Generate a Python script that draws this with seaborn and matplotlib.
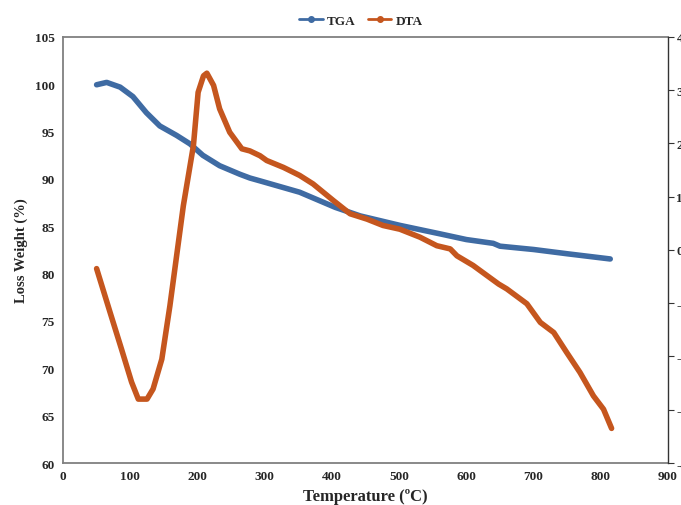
import numpy as np
import pandas as pd
import seaborn as sns
import matplotlib
matplotlib.use("Agg")
import matplotlib.pyplot as plt
from matplotlib.lines import Line2D

# TGA: mass remaining (%) vs temperature (°C)
tga_temp = [50, 65, 85, 104, 124, 144, 169, 189, 208, 233, 263, 278, 293, 352,
            405, 442, 501, 561, 600, 640, 650, 700, 750, 814]
tga_mass = [99.95, 100.2, 99.7, 98.7, 97.0, 95.6, 94.6, 93.7, 92.5, 91.4, 90.5,
            90.1, 89.8, 88.6, 87.0, 86.1, 85.1, 84.2, 83.6, 83.2, 82.9, 82.55,
            82.1, 81.55]

# DTA signal vs temperature (°C)
dta_temp = [50, 70, 87, 102, 112, 125, 134, 147, 159, 169, 179, 194, 201, 209,
            214, 224, 233, 248, 266, 278, 293, 303, 328, 352, 372, 402, 427, 452,
            476, 501, 531, 556, 576, 586, 610, 648, 660, 690, 710, 730, 749, 769,
            789, 804, 816]
dta_signal = [-0.35, -1.17, -1.86, -2.48, -2.80, -2.80, -2.61, -2.05, -1.05, -0.11,
              0.83, 1.96, 2.96, 3.27, 3.32, 3.09, 2.65, 2.21, 1.90, 1.86, 1.77,
              1.68, 1.55, 1.40, 1.24, 0.93, 0.68, 0.58, 0.46, 0.39, 0.24, 0.08,
              0.02, -0.11, -0.29, -0.64, -0.73, -1.01, -1.36, -1.55, -1.92, -2.30,
              -2.74, -2.99, -3.35]

x_ticks = [0, 100, 200, 300, 400, 500, 600, 700, 800, 900]
left_ticks = [60, 65, 70, 75, 80, 85, 90, 95, 100, 105]
right_ticks = [-4, -3, -2, -1, 0, 1, 2, 3, 4]

TGA_COLOR = "#3F6BA3"
DTA_COLOR = "#C5561E"

sns.set_style("white")
plt.rcParams["font.family"] = ["Liberation Serif", "DejaVu Serif"]
plt.rcParams["font.weight"] = "bold"

fig = plt.figure(figsize=(6.81, 5.06), dpi=100)
ax = fig.add_axes([0.0925, 0.083, 0.8885, 0.842])
ax2 = ax.twinx()

tga = pd.DataFrame({"T": tga_temp, "mass": tga_mass})
dta = pd.DataFrame({"T": dta_temp, "dta": dta_signal})

sns.lineplot(data=tga, x="T", y="mass", ax=ax, color=TGA_COLOR, linewidth=4.0,
             sort=False, solid_capstyle="round", solid_joinstyle="round")
sns.lineplot(data=dta, x="T", y="dta", ax=ax2, color=DTA_COLOR, linewidth=4.0,
             sort=False, solid_capstyle="round", solid_joinstyle="round")

ax.set_xlim(0, 900)
ax.set_ylim(60, 105)
ax2.set_ylim(-4, 4)
ax.set_xticks(x_ticks)
ax.set_yticks(left_ticks)
ax2.set_yticks(right_ticks)

tick_font = dict(fontsize=9.5, fontweight="bold")
ax.set_xticklabels([str(v) for v in x_ticks], **tick_font)
ax.set_yticklabels([str(v) for v in left_ticks], **tick_font)
ax2.set_yticklabels([str(v) for v in right_ticks], **tick_font)

ax.tick_params(axis="y", length=0, pad=6)
ax.tick_params(axis="x", length=0, pad=5)
ax2.tick_params(axis="y", direction="out", length=4, width=0.8, color="#333333",
                pad=2)

ax.set_xlabel("Temperature (ºC)", fontsize=12, fontweight="bold", labelpad=4)
ax.set_ylabel("Loss Weight (%)", fontsize=10.5, fontweight="bold", labelpad=5)
ax2.set_ylabel("")

for name in ["left", "top", "bottom"]:
    ax.spines[name].set_color("#808080")
    ax.spines[name].set_linewidth(1.3)
    ax2.spines[name].set_visible(False)
ax.spines["right"].set_visible(False)
ax2.spines["right"].set_color("#333333")
ax2.spines["right"].set_linewidth(1.0)

handles = [
    Line2D([], [], color=TGA_COLOR, linewidth=2, marker="o", markersize=4),
    Line2D([], [], color=DTA_COLOR, linewidth=2, marker="o", markersize=4),
]
fig.legend(handles, ["TGA", "DTA"], loc="center", ncol=2,
           bbox_to_anchor=(0.53, 0.957), frameon=False, handlelength=1.8,
           columnspacing=0.9, handletextpad=0.3,
           prop=dict(family="Liberation Serif", weight="bold", size=9.5))

fig.savefig("out.png", dpi=100)
